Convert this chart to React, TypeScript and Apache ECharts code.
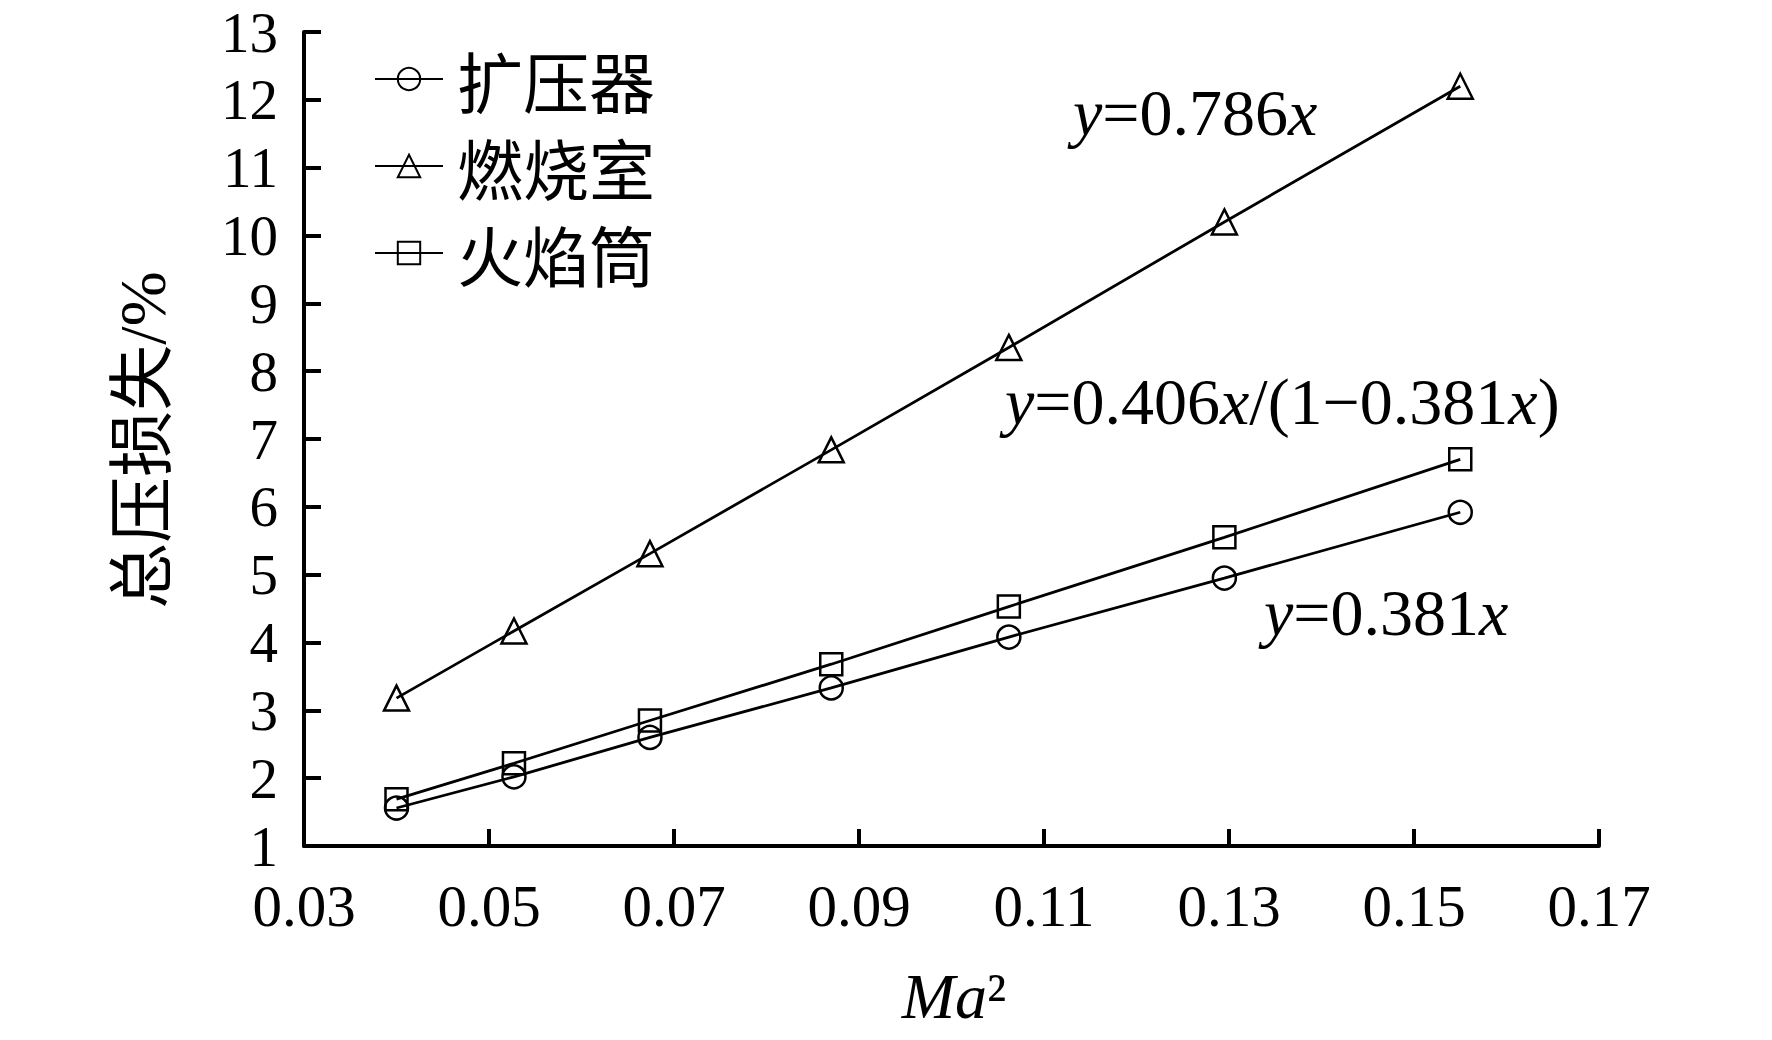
import React, { useEffect, useRef } from "react";
import * as echarts from "echarts";

// Ma^2 values
const xValues = [0.04, 0.0527, 0.0674, 0.087, 0.1062, 0.1295, 0.155];
// 总压损失 (%)
const diffuser = [1.56, 2.02, 2.6, 3.33, 4.08, 4.95, 5.92];
const combustor = [3.18, 4.17, 5.31, 6.84, 8.35, 10.2, 12.2];
const liner = [1.69, 2.22, 2.85, 3.68, 4.53, 5.55, 6.7];
const seriesNames = ["扩压器", "燃烧室", "火焰筒"];
const seriesSymbols = ["circle", "triangle", "rect"];
const symbolSizes = [23, 25, 22];
const xAxisRange = { min: 0.03, max: 0.17, interval: 0.02 };
const yAxisRange = { min: 1, max: 13, interval: 1 };
const yTitle = "总压损失/%";
const fitTexts = [
  "{i|y}=0.786{i|x}",
  "{i|y}=0.406{i|x}/(1−0.381{i|x})",
  "{i|y}=0.381{i|x}",
];

const SERIF = "'Liberation Serif', 'Times New Roman', 'Noto Sans CJK SC', serif";

export default function App() {
  const ref = useRef<HTMLDivElement>(null);
  useEffect(() => {
    if (!ref.current) return;
    const chart = echarts.init(ref.current, null, { renderer: "svg" });
    const allData = [diffuser, combustor, liner];
    const richItalic = { i: { fontStyle: "italic", fontFamily: SERIF, fontSize: 66, fill: "#000" } };
    const fitPos = [
      [1073, 112],
      [1005, 401],
      [1264, 612],
    ];
    chart.setOption({
      animation: false,
      backgroundColor: "#fff",
      grid: { left: 304, right: 173, top: 32, bottom: 194, containLabel: false },
      legend: {
        orient: "vertical",
        left: 369,
        top: 41,
        itemWidth: 68,
        itemHeight: 28,
        itemGap: 21,
        data: seriesNames,
        textStyle: {
          fontSize: 66,
          fontFamily: "'Noto Sans CJK SC', sans-serif",
          color: "#000",
          padding: [0, 0, 0, 9],
        },
      },
      xAxis: {
        type: "value",
        min: xAxisRange.min,
        max: xAxisRange.max,
        interval: xAxisRange.interval,
        splitLine: { show: false },
        axisLine: { lineStyle: { color: "#000", width: 4 } },
        axisTick: { inside: true, length: 17, lineStyle: { color: "#000", width: 4 } },
        axisLabel: {
          formatter: (v: number) => v.toFixed(2),
          fontSize: 59,
          lineHeight: 44,
          fontFamily: SERIF,
          color: "#000",
          margin: 38,
          showMinLabel: true,
          showMaxLabel: true,
        },
      },
      yAxis: {
        type: "value",
        min: yAxisRange.min,
        max: yAxisRange.max,
        interval: yAxisRange.interval,
        splitLine: { show: false },
        axisLine: { show: true, lineStyle: { color: "#000", width: 4 } },
        axisTick: { show: true, inside: true, length: 17, lineStyle: { color: "#000", width: 4 } },
        axisLabel: {
          fontSize: 57,
          lineHeight: 44,
          fontFamily: SERIF,
          color: "#000",
          margin: 26,
        },
      },
      series: seriesNames.map((name, si) => ({
        name,
        type: "line",
        data: xValues.map((x, i) => [x, allData[si][i]]),
        symbol: seriesSymbols[si],
        symbolSize: symbolSizes[si],
        showAllSymbol: true,
        lineStyle: { color: "#000", width: 2.8 },
        itemStyle: { color: "rgba(255,255,255,0)", borderColor: "#000", borderWidth: 2.5 },
        z: 3 + si,
      })),
      graphic: [
        ...fitTexts.map((t, k) => ({
          type: "text",
          x: fitPos[k][0],
          y: fitPos[k][1],
          style: {
            text: t,
            rich: richItalic,
            fontFamily: SERIF,
            fontSize: 66,
            fill: "#000",
            align: "left",
            verticalAlign: "middle",
          },
        })),
        {
          type: "text",
          x: 142,
          y: 440,
          rotation: Math.PI / 2,
          style: {
            text: yTitle,
            fontFamily: SERIF,
            fontSize: 66,
            fill: "#000",
            align: "center",
            verticalAlign: "middle",
          },
        },
        {
          type: "text",
          x: 954,
          y: 996,
          style: {
            text: "{i|Ma}²",
            rich: { i: { fontStyle: "italic", fontFamily: SERIF, fontSize: 64, fill: "#000" } },
            fontFamily: SERIF,
            fontSize: 64,
            fill: "#000",
            align: "center",
            verticalAlign: "middle",
          },
        },
      ],
    });
    return () => chart.dispose();
  }, []);
  return (
    <div
      ref={ref}
      style={{ position: "absolute", left: 0, top: 0, width: 1772, height: 1040, background: "#fff" }}
    />
  );
}
